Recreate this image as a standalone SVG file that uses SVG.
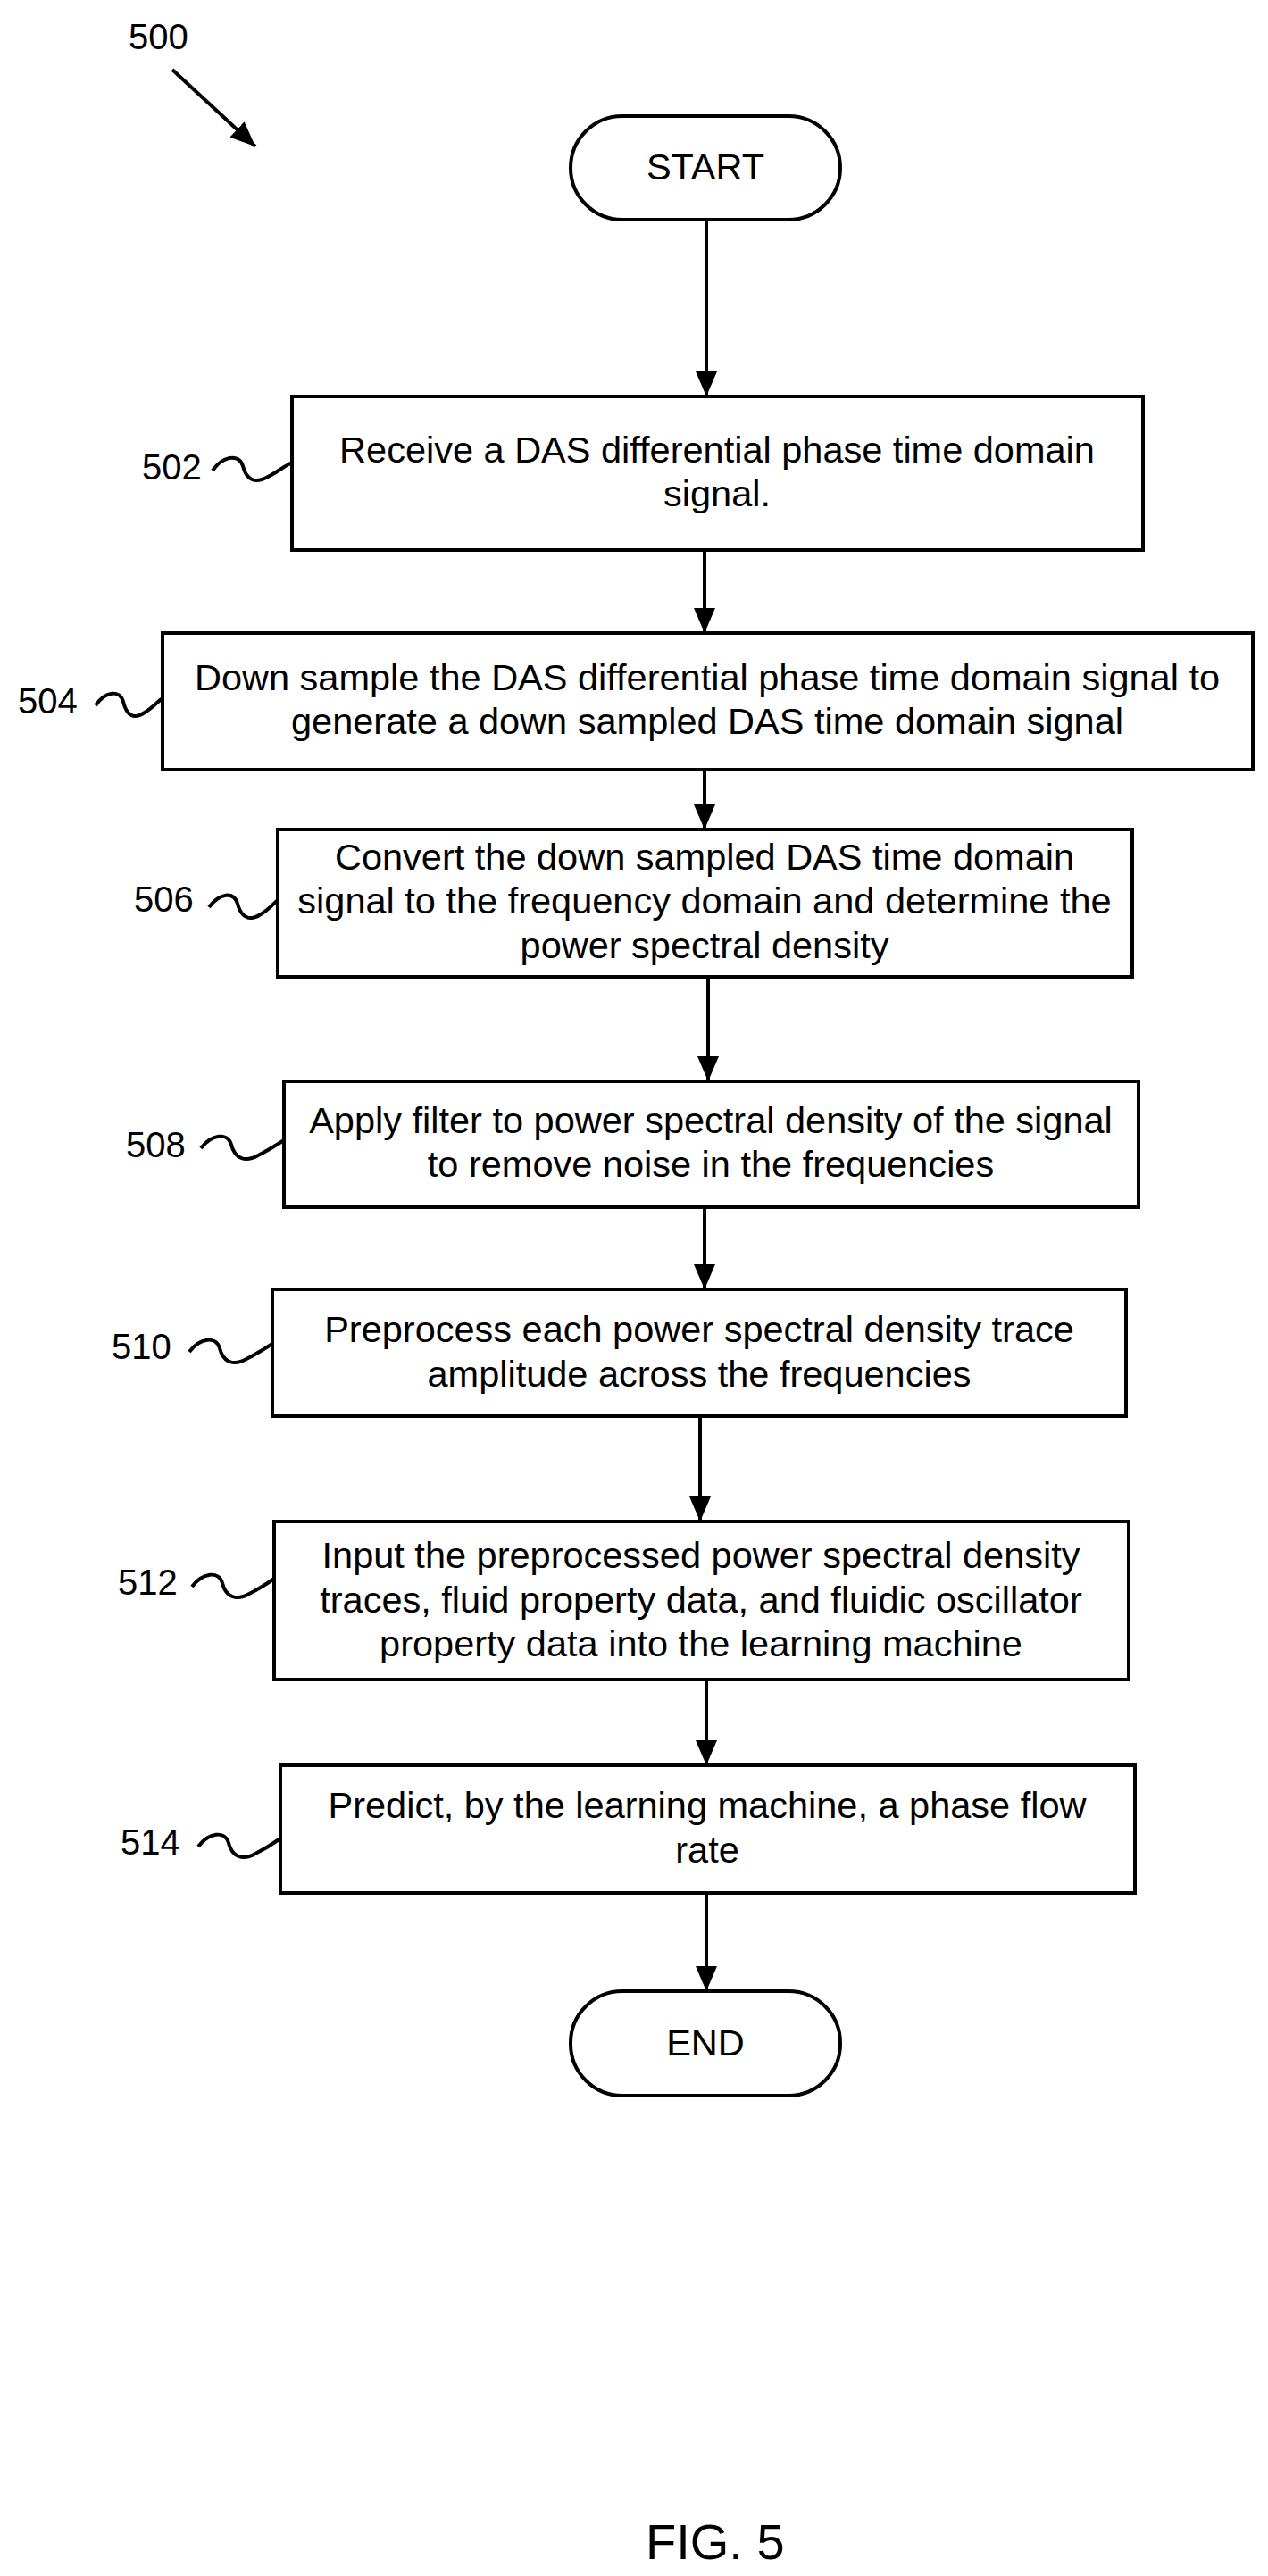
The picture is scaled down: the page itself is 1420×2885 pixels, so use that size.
<svg xmlns="http://www.w3.org/2000/svg" width="1420" height="2885" viewBox="0 0 1420 2885">
<style>
text{font-family:"Liberation Sans",Arial,sans-serif;fill:#000}
.t{font-size:41.5px;text-anchor:middle}
.l{font-size:40px}
.b{fill:#fff;stroke:#000;stroke-width:4}
.c{stroke:#000;stroke-width:4;fill:none}
.s{stroke:#000;stroke-width:4;fill:none}
</style>
<defs>
<marker id="av" markerUnits="userSpaceOnUse" markerWidth="28" markerHeight="24" refX="28" refY="12" orient="auto" viewBox="0 0 28 24">
<path d="M0,0 L28,12 L0,24 Z" fill="#000"/>
</marker>
</defs>
<g id="label500">
<text x="144" y="55" style="font-size:40px">500</text>
<line x1="193" y1="78" x2="286" y2="164" class="c" marker-end="url(#av)"/>
</g>
<g id="connectors">
<line x1="791" y1="246" x2="791" y2="444" class="c" marker-end="url(#av)"/>
<line x1="789" y1="616" x2="789" y2="709" class="c" marker-end="url(#av)"/>
<line x1="789" y1="862" x2="789" y2="929" class="c" marker-end="url(#av)"/>
<line x1="793" y1="1094" x2="793" y2="1211" class="c" marker-end="url(#av)"/>
<line x1="789" y1="1352" x2="789" y2="1444" class="c" marker-end="url(#av)"/>
<line x1="784" y1="1586" x2="784" y2="1704" class="c" marker-end="url(#av)"/>
<line x1="791" y1="1881" x2="791" y2="1977" class="c" marker-end="url(#av)"/>
<line x1="791" y1="2120" x2="791" y2="2230" class="c" marker-end="url(#av)"/>
</g>
<g id="start">
<rect x="639" y="130" width="302" height="116" rx="58" class="b"/>
<text x="790" y="201" class="t">START</text>
</g>
<g id="n502">
<rect x="327" y="444" width="953" height="172" class="b"/>
<text x="803" y="518" class="t">Receive a DAS differential phase time domain</text>
<text x="803" y="567" class="t">signal.</text>
<text x="159" y="537" class="l">502</text>
<path d="M238,527 C250,510 268,508 272,522 C276,538 286,542 300,534 C312,528 318,522 327,518" class="s"/>
</g>
<g id="n504">
<rect x="182" y="709" width="1221" height="153" class="b"/>
<text x="792" y="773" class="t">Down sample the DAS differential phase time domain signal to</text>
<text x="792" y="822" class="t">generate a down sampled DAS time domain signal</text>
<text x="20" y="799" class="l">504</text>
<path d="M107,790 C118,774 134,772 138,786 C142,802 150,806 162,798 C172,792 176,786 182,782" class="s"/>
</g>
<g id="n506">
<rect x="311" y="929" width="957" height="165" class="b"/>
<text x="789" y="974" class="t">Convert the down sampled DAS time domain</text>
<text x="789" y="1023" class="t">signal to the frequency domain and determine the</text>
<text x="789" y="1073" class="t">power spectral density</text>
<text x="150" y="1021" class="l">506</text>
<path d="M234,1016 C246,1000 262,998 266,1012 C270,1028 280,1032 292,1024 C302,1018 306,1012 311,1008" class="s"/>
</g>
<g id="n508">
<rect x="318" y="1211" width="957" height="141" class="b"/>
<text x="796" y="1269" class="t">Apply filter to power spectral density of the signal</text>
<text x="796" y="1318" class="t">to remove noise in the frequencies</text>
<text x="141" y="1296" class="l">508</text>
<path d="M225,1286 C237,1270 255,1268 259,1282 C263,1298 275,1302 289,1294 C301,1288 310,1282 318,1277" class="s"/>
</g>
<g id="n510">
<rect x="305" y="1444" width="956" height="142" class="b"/>
<text x="783" y="1503" class="t">Preprocess each power spectral density trace</text>
<text x="783" y="1553" class="t">amplitude across the frequencies</text>
<text x="125" y="1522" class="l">510</text>
<path d="M212,1514 C224,1498 242,1496 246,1510 C250,1526 262,1530 276,1522 C288,1516 297,1510 305,1505" class="s"/>
</g>
<g id="n512">
<rect x="307" y="1704" width="957" height="177" class="b"/>
<text x="785" y="1756" class="t">Input the preprocessed power spectral density</text>
<text x="785" y="1806" class="t">traces, fluid property data, and fluidic oscillator</text>
<text x="785" y="1855" class="t">property data into the learning machine</text>
<text x="132" y="1786" class="l">512</text>
<path d="M215,1777 C227,1761 245,1759 249,1773 C253,1789 265,1793 279,1785 C291,1779 300,1773 307,1768" class="s"/>
</g>
<g id="n514">
<rect x="314" y="1977" width="957" height="143" class="b"/>
<text x="792" y="2036" class="t">Predict, by the learning machine, a phase flow</text>
<text x="792" y="2086" class="t">rate</text>
<text x="135" y="2077" class="l">514</text>
<path d="M222,2068 C234,2052 252,2050 256,2064 C260,2080 272,2084 286,2076 C298,2070 307,2064 314,2059" class="s"/>
</g>
<g id="end">
<rect x="639" y="2230" width="302" height="117" rx="58" class="b"/>
<text x="790" y="2302" class="t">END</text>
</g>
<text x="723" y="2866" style="font-size:56px">FIG. 5</text>
</svg>
